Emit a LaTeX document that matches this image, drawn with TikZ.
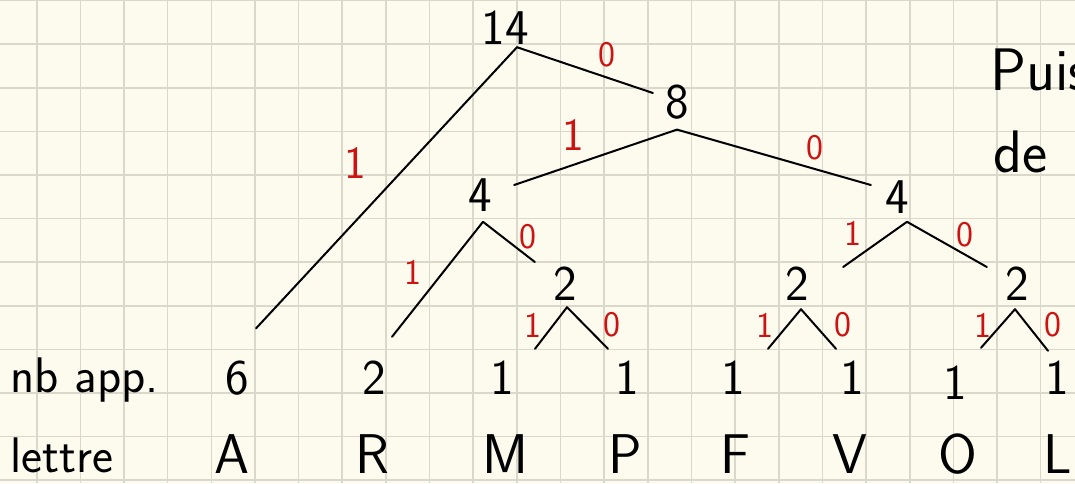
\documentclass[tikz,border=0pt]{standalone}
\usepackage{fontspec}
\usepackage{xcolor}
\usepackage{tikz}
\usetikzlibrary{positioning}
\definecolor{paper}{RGB}{253,251,238}
\definecolor{papergrid}{RGB}{218,216,203}
\definecolor{bitred}{RGB}{205,18,18}
\tikzset{
    gridline/.style={draw=papergrid, line width=0.8pt},
    count/.style={font=\sffamily\fontsize{25}{28}\selectfont, inner sep=1pt},
    letter/.style={font=\sffamily\fontsize{28}{32}\selectfont, inner sep=1pt, anchor=base},
    rowlabel/.style={font=\sffamily\fontsize{25}{30}\selectfont, inner sep=0pt, anchor=base west},
    bit/.style={font=\sffamily\fontsize{18}{20}\selectfont, text=bitred, inner sep=0pt},
    bigbit/.style={bit, font=\sffamily\fontsize{23}{26}\selectfont},
    branch/.style={line width=1pt, line cap=round},
}

\begin{document}
\begin{tikzpicture}[x=0.5pt, y=-0.5pt]
    % squared paper
    \useasboundingbox (0,0) rectangle (1075,483);
    \clip (0,0) rectangle (1075,483);
    \fill[paper] (0,0) rectangle (1075,483);
    \foreach \i in {0,...,23}
        \draw[gridline] ({36.7+43.65*\i},0) -- ++(0,483);
    \foreach \j in {0,...,11}
        \draw[gridline] (0,{0.5+43.6*\j}) -- ++(1075,0);

    % inner nodes of the tree
    \node[count] (n14) at (505,28) {14};
    \node[count] (n8) at (677,102) {8};
    \node[count] (n4l) at (480,195) {4};
    \node[count] (n4r) at (897,197) {4};
    \node[count] (n2m) at (565,284) {2};
    \node[count] (n2f) at (797,284) {2};
    \node[count] (n2o) at (1017,284) {2};

    % nb app. row
    \node[rowlabel] (nbapp) at (10,392) {nb app.};
    \node[count] (cA) at (237,378) {6};
    \node[count] (cR) at (374,378) {2};
    \node[count] (cM) at (502,378) {1};
    \node[count] (cP) at (627,378) {1};
    \node[count] (cF) at (733,378) {1};
    \node[count] (cV) at (852,378) {1};
    \node[count] (cO) at (955,383) {1};
    \node[count] (cL) at (1057,378) {1};

    % lettre row
    \node[rowlabel] (lettre) at (10,472) {lettre};
    \node[letter] (lA) at (232,473) {A};
    \node[letter] (lR) at (372,473) {R};
    \node[letter] (lM) at (505,473) {M};
    \node[letter] (lP) at (625,473) {P};
    \node[letter] (lF) at (735,473) {F};
    \node[letter] (lV) at (850,473) {V};
    \node[letter] (lO) at (958,473) {O};
    \node[letter] (lL) at (1058,473) {L};

    % branches
    \draw[branch] ([xshift=6pt]n14.south) -- ([shift={(-5pt,4.5pt)}]n8.west);
    \draw[branch] ([xshift=6pt]n14.south) -- ([shift={(9.5pt,15pt)}]cA.north);
    \draw[branch] ([yshift=-4pt]n8.south) -- ([shift={(10pt,5pt)}]n4l.east);
    \draw[branch] ([yshift=-4pt]n8.south) -- ([shift={(-6pt,6pt)}]n4r.west);
    \draw[branch] ([shift={(1.5pt,-4pt)}]n4l.south) -- ([shift={(9pt,11pt)}]cR.north);
    \draw[branch] ([shift={(1.5pt,-4pt)}]n4l.south) -- ([shift={(-8pt,11pt)}]n2m.west);
    \draw[branch] ([shift={(1pt,-2pt)}]n2m.south) -- ([shift={(16.5pt,5pt)}]cM.north);
    \draw[branch] ([shift={(1pt,-2pt)}]n2m.south) -- ([shift={(-9.5pt,5pt)}]cP.north);
    \draw[branch] ([shift={(5pt,-3pt)}]n4r.south) -- ([shift={(16pt,8.5pt)}]n2f.east);
    \draw[branch] ([shift={(5pt,-3pt)}]n4r.south) -- ([shift={(-8pt,8.5pt)}]n2o.west);
    \draw[branch] ([shift={(2pt,-3pt)}]n2f.south) -- ([shift={(17.5pt,5pt)}]cF.north);
    \draw[branch] ([shift={(2pt,-3pt)}]n2f.south) -- ([shift={(-8pt,5pt)}]cV.north);
    \draw[branch] ([shift={(-1pt,-3pt)}]n2o.south) -- ([shift={(13pt,8pt)}]cO.north);
    \draw[branch] ([shift={(-1pt,-3pt)}]n2o.south) -- ([shift={(-4.5pt,4pt)}]cL.north);

    % red codes
    \node[bit] (b14r) at (607,55) {0};
    \node[bigbit] (b14l) at (355,163) {1};
    \node[bigbit] (b8l) at (573,135) {1};
    \node[bit] (b8r) at (815,148) {0};
    \node[bit] (b4ll) at (413,272) {1};
    \node[bit] (b4lr) at (528,237) {0};
    \node[bit] (b2ml) at (533,325) {1};
    \node[bit] (b2mr) at (612,325) {0};
    \node[bit] (b4rl) at (853,233) {1};
    \node[bit] (b4rr) at (965,235) {0};
    \node[bit] (b2fl) at (765,325) {1};
    \node[bit] (b2fr) at (843,325) {0};
    \node[bit] (b2ol) at (983,325) {1};
    \node[bit] (b2or) at (1053,325) {0};

    % note on the right, cut by the page edge
    \node[rowlabel, font=\sffamily\fontsize{30}{34}\selectfont] (puis) at (990,90) {Puis};
    \node[rowlabel, font=\sffamily\fontsize{30}{34}\selectfont] (de) at (993,172) {de};
\end{tikzpicture}
\end{document}
